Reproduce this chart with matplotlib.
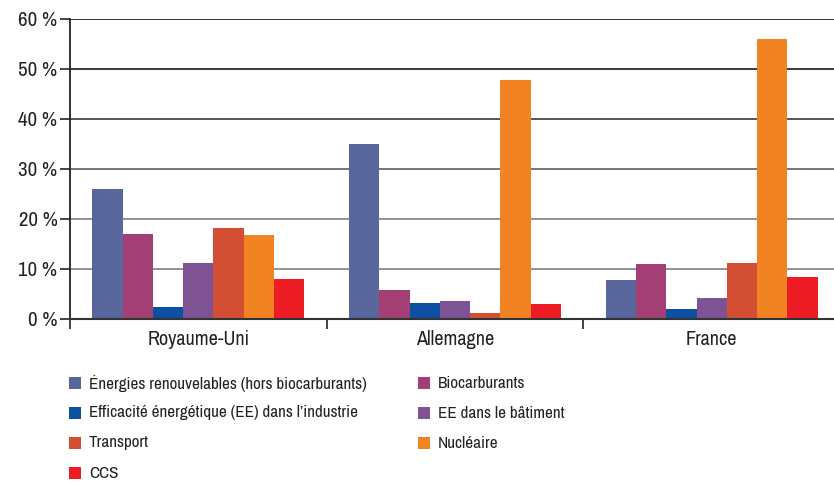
import matplotlib
matplotlib.use("Agg")
import matplotlib.pyplot as plt
from matplotlib import font_manager
from matplotlib.patches import Rectangle
import numpy as np

# Pick a narrow grotesque face, falling back to a regular one
available = {f.name for f in font_manager.fontManager.ttflist}
candidates = ["Archivo Narrow", "Roboto Condensed", "PT Sans Narrow",
              "Liberation Sans Narrow", "Liberation Sans"]
family = next(f for f in candidates if f in available)
plt.rcParams["font.family"] = [family, "DejaVu Sans"]

countries = ["Royaume-Uni", "Allemagne", "France"]
series_names = [
    "Énergies renouvelables (hors biocarburants)",
    "Biocarburants",
    "Efficacité énergétique (EE) dans l’industrie",
    "EE dans le bâtiment",
    "Transport",
    "Nucléaire",
    "CCS",
]
renouvelables = [26.0, 35.0, 7.8]
biocarburants = [17.0, 5.8, 11.0]
ee_industrie = [2.4, 3.2, 2.0]
ee_batiment = [11.2, 3.6, 4.2]
transport = [18.2, 1.2, 11.2]
nucleaire = [16.8, 47.7, 56.0]
ccs = [8.0, 3.0, 8.4]
series_values = [renouvelables, biocarburants, ee_industrie, ee_batiment,
                 transport, nucleaire, ccs]
colors = ["#58669C", "#A33F74", "#0D4FA3", "#7E5294", "#D24F33", "#F28322", "#ED1C24"]
y_ticks = [0, 10, 20, 30, 40, 50, 60]

W, H = 834, 482
fig = plt.figure(figsize=(W / 100, H / 100), dpi=100)
left, right, top, bottom = 70, 840, 18.5, 319
ax = fig.add_axes([left / W, 1 - bottom / H, (right - left) / W, (bottom - top) / H])

n = len(series_names)
bw = 0.118
x = np.arange(len(countries)) + 0.5
for i, (vals, c) in enumerate(zip(series_values, colors)):
    ax.bar(x + (i - (n - 1) / 2) * bw, vals, width=bw, color=c, zorder=3, linewidth=0)

ax.set_xlim(0, 3)
ax.set_ylim(0, 60)

grid_colors = {10: "#8a8a8a", 20: "#8a8a8a", 30: "#6a6a6a", 40: "#484848", 50: "#2a2a2a", 60: "#222222"}
for v, gc in grid_colors.items():
    ax.axhline(v, color=gc, lw=1.3, zorder=1)

ax.set_yticks(y_ticks)
ax.set_yticklabels([f"{v} %" for v in y_ticks], fontsize=15, color="#222222")
ax.tick_params(axis="y", length=7, width=1.2, color="#222222", pad=2)

ax.set_xticks([0, 1, 2, 3])
ax.set_xticklabels([])
ax.set_xticks(x, minor=True)
ax.set_xticklabels(countries, minor=True, fontsize=14.5, color="#222222")
ax.tick_params(axis="x", which="major", length=7, width=1.2, color="#222222")
ax.tick_params(axis="x", which="minor", length=0, pad=8)

for s in ["top", "right"]:
    ax.spines[s].set_visible(False)
ax.spines["left"].set_color("#222222")
ax.spines["left"].set_linewidth(1.3)
ax.spines["bottom"].set_color("#333333")
ax.spines["bottom"].set_linewidth(1.5)
ax.spines["bottom"].set_zorder(4)

# Legend laid out in two columns, row by row
col_x = [69, 418]
row_y = [383, 413, 443, 473]
sq = 12
for i, (name, c) in enumerate(zip(series_names, colors)):
    cx = col_x[i % 2]
    cy = row_y[i // 2]
    fig.patches.append(Rectangle((cx / W, 1 - (cy + sq / 2) / H), sq / W, sq / H,
                                 transform=fig.transFigure, facecolor=c, edgecolor="none"))
    fig.text((cx + 20) / W, 1 - cy / H, name, fontsize=12.3, color="#222222",
             va="center", ha="left")

fig.savefig("out.png", dpi=100)
